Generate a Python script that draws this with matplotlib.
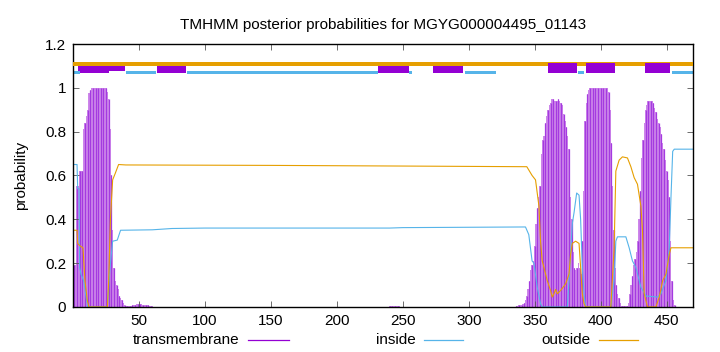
import numpy as np
import matplotlib
matplotlib.use("Agg")
import matplotlib.pyplot as plt
from matplotlib.lines import Line2D

plt.rcParams['font.family'] = ['Liberation Sans', 'DejaVu Sans']

title = "TMHMM posterior probabilities for MGYG000004495_01143"
seq_len = 470

# transmembrane posterior, per residue, in the three non-zero stretches
tm_start_a = 1
tm_vals_a = [0.19, 0.19, 0.55, 0.55, 0.62, 0.62, 0.62, 0.81, 0.84, 0.87,
             0.90, 0.975, 0.99, 1.0, 1.0, 1.0, 1.0, 1.0, 1.0, 1.0,
             1.0, 1.0, 1.0, 1.0, 1.0, 0.98, 0.95, 0.81, 0.60, 0.35,
             0.18, 0.12, 0.10, 0.08, 0.05, 0.04, 0.03, 0.02, 0.01, 0.005,
             0.004, 0.004, 0.005, 0.006, 0.008, 0.01, 0.01, 0.012, 0.012, 0.012,
             0.012, 0.012, 0.01, 0.01, 0.01, 0.008, 0.008, 0.006, 0.005, 0.004]
tm_start_b = 240
tm_vals_b = [0.003, 0.004, 0.005, 0.005, 0.005, 0.005, 0.004, 0.003]
tm_start_c = 336
tm_vals_c = [0.005, 0.005, 0.01, 0.01, 0.01, 0.015, 0.02, 0.03, 0.05, 0.08,
             0.12, 0.17, 0.19, 0.21, 0.28, 0.38, 0.45, 0.50, 0.55, 0.70,
             0.76, 0.78, 0.84, 0.87, 0.90, 0.92, 0.93, 0.95, 0.95, 0.94,
             0.94, 0.94, 0.95, 0.94, 0.93, 0.92, 0.88, 0.85, 0.82, 0.78,
             0.72, 0.50, 0.40, 0.25, 0.18, 0.17, 0.18, 0.20, 0.18, 0.15,
             0.30, 0.53, 0.85, 0.93, 0.97, 0.99, 1.0, 1.0, 1.0, 1.0,
             1.0, 1.0, 1.0, 1.0, 1.0, 1.0, 1.0, 1.0, 1.0, 1.0,
             0.98, 0.90, 0.75, 0.55, 0.35, 0.18, 0.10, 0.06, 0.04, 0.02,
             0.005, 0.005, 0.005, 0.005, 0.005, 0.02, 0.06, 0.10, 0.14, 0.19,
             0.22, 0.25, 0.30, 0.40, 0.53, 0.68, 0.76, 0.84, 0.90, 0.92,
             0.94, 0.94, 0.94, 0.94, 0.93, 0.91, 0.89, 0.86, 0.84, 0.82,
             0.79, 0.75, 0.72, 0.67, 0.62, 0.58, 0.50, 0.30, 0.12, 0.03,
             0.01]

inside_pos = [1, 3, 3.5, 4.5, 5, 6, 8, 9.5, 11, 26, 28, 30, 33.5, 36, 60, 75, 100,
              240, 250, 343, 345.5, 348, 349.4, 351.9, 354.4, 355.7, 374.7, 376,
              378.5, 379.8, 381.8, 383.6, 384.8, 386.1, 387.4, 388.6, 407.7, 410.2,
              411.5, 412.7, 419.1, 421.6, 424.1, 426.7, 430.5, 434.3, 443, 445.7,
              449.5, 452, 453.3, 454.6, 455.8, 470]
inside_val = [0.65, 0.65, 0.54, 0.54, 0.18, 0.15, 0.12, 0.06, 0.0, 0.0, 0.18, 0.30,
              0.305, 0.35, 0.352, 0.358, 0.36, 0.36, 0.362, 0.365, 0.33, 0.21, 0.20,
              0.09, 0.015, 0.0, 0.0, 0.12, 0.38, 0.43, 0.52, 0.51, 0.40, 0.18, 0.06,
              0.0, 0.0, 0.12, 0.30, 0.32, 0.32, 0.27, 0.21, 0.18, 0.09, 0.05, 0.045,
              0.06, 0.12, 0.27, 0.50, 0.71, 0.72, 0.72]
outside_pos = [1, 3, 3.5, 5, 7.5, 9, 10.8, 12, 26, 27, 28.3, 30, 32, 34.5, 40, 150,
               250, 344, 348, 350.6, 353.2, 354.4, 355.7, 357, 359.5, 362, 363.3,
               364.6, 365.8, 367.1, 369.6, 373.4, 376, 377.2, 378.5, 381, 383.6,
               384.8, 386.1, 387.4, 388.6, 407.7, 410.2, 411.5, 414, 416.5, 420.3,
               422.9, 425.4, 427.9, 430.5, 431.7, 433, 435.5, 441.9, 444.4, 447,
               449.5, 452, 453.3, 470]
outside_val = [0.35, 0.35, 0.29, 0.28, 0.27, 0.12, 0.03, 0.0, 0.0, 0.12, 0.40, 0.58,
               0.61, 0.65, 0.648, 0.646, 0.643, 0.64, 0.60, 0.58, 0.46, 0.30, 0.21,
               0.18, 0.12, 0.075, 0.045, 0.06, 0.08, 0.06, 0.075, 0.105, 0.15, 0.24,
               0.29, 0.30, 0.29, 0.18, 0.06, 0.015, 0.0, 0.0, 0.27, 0.62, 0.67, 0.685,
               0.68, 0.64, 0.59, 0.56, 0.46, 0.35, 0.06, 0.0, 0.0, 0.045, 0.12, 0.15,
               0.24, 0.27, 0.27]

# predicted topology strip above the curves (start, end residue)
inside_segs = [(0, 5), (40, 63), (86, 231), (255, 257), (297, 321), (382.5, 387.6), (454, 470)]
tm_segs_low = [(5.3, 27.4), (63.3, 85.6), (231.4, 255), (273.2, 295.6)]
tm_segs_high = [(360, 381.7), (388.8, 410.6), (433.5, 452.7)]
tm_extra_seg = (3.8, 39.5)

purple = '#9400d3'
blue = '#56b4e9'
orange = '#e69f00'

fig = plt.figure(figsize=(7.2, 3.52), dpi=100)
ax = fig.add_axes([0.1015, 0.128, 0.861, 0.747])

for start, vals in [(tm_start_a, tm_vals_a), (tm_start_b, tm_vals_b), (tm_start_c, tm_vals_c)]:
    pos = np.arange(start, start + len(vals))
    ax.bar(pos, vals, width=1.0, color='#cd86ea', linewidth=0, zorder=1)
    ax.vlines(pos[::2], 0, vals[::2], color='#a43ae0', linewidth=0.9, zorder=1.5)

ax.plot(inside_pos, inside_val, color=blue, linewidth=0.8, zorder=2)
ax.plot(outside_pos, outside_val, color=orange, linewidth=0.8, zorder=2)

# topology strip
ax.broken_barh([(0, seq_len)], (1.101, 0.017), facecolor=orange, zorder=3)
ax.broken_barh([(a, b - a) for a, b in inside_segs], (1.063, 0.015), facecolor=blue, zorder=2)
ax.broken_barh([(a, b - a) for a, b in tm_segs_low], (1.066, 0.046), facecolor=purple, zorder=2)
ax.broken_barh([(tm_extra_seg[0], tm_extra_seg[1] - tm_extra_seg[0])], (1.078, 0.022),
               facecolor=purple, zorder=2)
ax.broken_barh([(a, b - a) for a, b in tm_segs_high], (1.066, 0.049), facecolor=purple, zorder=4)

ax.set_xlim(0, seq_len)
ax.set_ylim(0, 1.2)
ax.set_xticks([50, 100, 150, 200, 250, 300, 350, 400, 450])
ax.set_yticks([0, 0.2, 0.4, 0.6, 0.8, 1.0, 1.2])
ax.set_yticklabels(['0', '0.2', '0.4', '0.6', '0.8', '1', '1.2'])
ax.tick_params(direction='in', top=True, right=True, labelsize=11, length=4, width=0.6,
               color='#555555', pad=5)
for sp in ax.spines.values():
    sp.set_linewidth(1.0)
ax.set_ylabel('probability', fontsize=11, labelpad=12)
ax.set_title(title, fontsize=11, pad=11)

# key below the plot, gnuplot style: text then sample line
key_y = 0.034
key = [('transmembrane', purple, 0.333, 0.345, 0.402),
       ('inside', blue, 0.577, 0.589, 0.643),
       ('outside', orange, 0.82, 0.832, 0.886)]
for label, col, tx, x0, x1 in key:
    fig.text(tx, key_y, label, ha='right', va='center', fontsize=11)
    fig.add_artist(Line2D([x0, x1], [key_y, key_y], color=col, linewidth=0.9))

fig.savefig('out.png', dpi=100)
